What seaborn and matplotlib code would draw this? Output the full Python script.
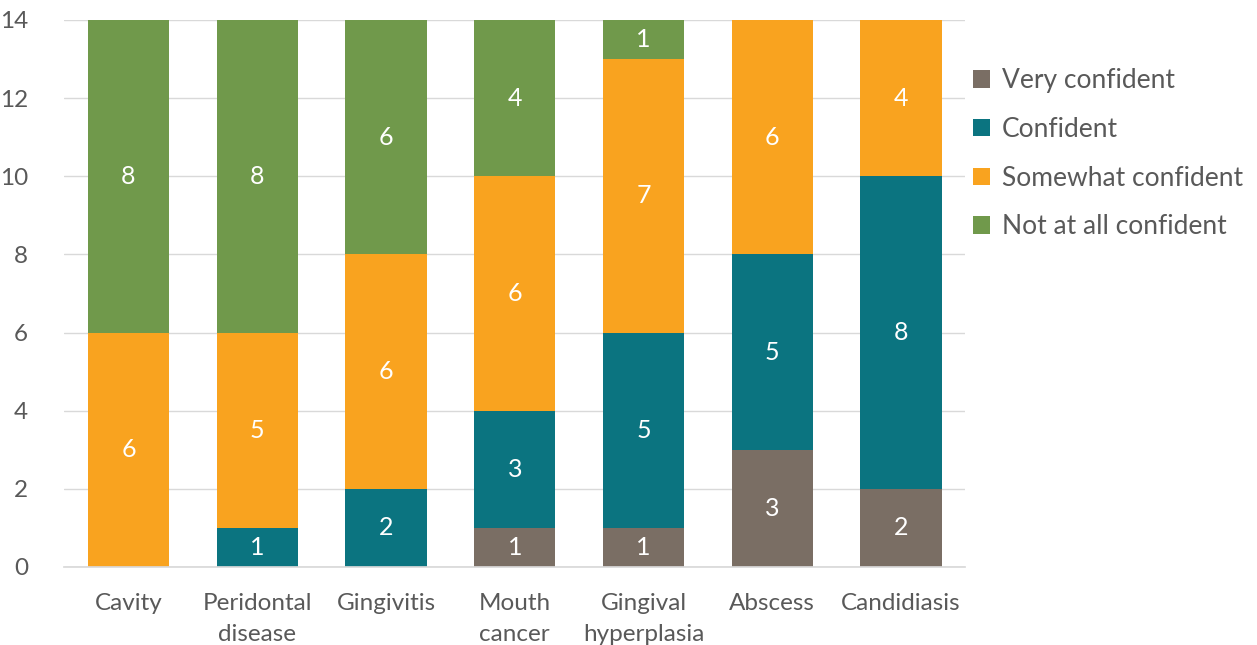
import matplotlib
matplotlib.use("Agg")
import matplotlib.pyplot as plt
import seaborn as sns
import pandas as pd
import numpy as np

categories = ["Cavity", "Peridontal\ndisease", "Gingivitis", "Mouth\ncancer",
              "Gingival\nhyperplasia", "Abscess", "Candidiasis"]
very_confident = [0, 0, 0, 1, 1, 3, 2]
confident = [0, 1, 2, 3, 5, 5, 8]
somewhat_confident = [6, 5, 6, 6, 7, 6, 4]
not_at_all_confident = [8, 8, 6, 4, 1, 0, 0]

series_names = ["Very confident", "Confident", "Somewhat confident", "Not at all confident"]
series_values = [very_confident, confident, somewhat_confident, not_at_all_confident]
colors = ["#7a6e64", "#0b7480", "#f9a31f", "#70994b"]

sns.set_theme(style="white")
plt.rcParams['font.family'] = ['Lato', 'DejaVu Sans']

fig = plt.figure(figsize=(12.57, 6.45), dpi=100)
ax = fig.add_axes([0.051, 0.121, 0.717, 0.848])

bottom = np.zeros(len(categories))
for name, vals, col in zip(series_names, series_values, colors):
    df = pd.DataFrame({"cat": categories, "val": vals})
    sns.barplot(data=df, x="cat", y="val", color=col, bottom=bottom, width=0.63,
                ax=ax, label=name, saturation=1, edgecolor="none")
    cont = ax.containers[-1]
    ax.bar_label(cont, labels=[str(v) if v else "" for v in vals], label_type="center",
                 color="white", fontsize=18)
    bottom = bottom + np.array(vals)

ax.set_ylim(0, 14)
ax.set_xlim(-0.5, 6.5)
ax.set_yticks(range(0, 15, 2))
ax.yaxis.grid(True, color="#d9d9d9", linewidth=1)
ax.set_axisbelow(True)
for s in ["top", "right", "left"]:
    ax.spines[s].set_visible(False)
ax.spines["bottom"].set_color("#d9d9d9")
ax.set_xlabel("")
ax.set_ylabel("")
ax.tick_params(axis="both", length=0, labelsize=17.5, colors="#595959")
ax.tick_params(axis="x", pad=19)
ax.tick_params(axis="y", pad=26)
for lab in ax.get_xticklabels():
    lab.set_linespacing(1.55)
for lab in ax.get_yticklabels():
    lab.set_horizontalalignment("right")

handles, labels = ax.get_legend_handles_labels()
leg = ax.legend(handles, labels, loc="upper left", bbox_to_anchor=(1.008, 0.912),
                borderaxespad=0, borderpad=0,
                frameon=False, fontsize=19, handlelength=0.65, handleheight=0.65,
                handletextpad=0.45, labelspacing=0.9, labelcolor="#595959")

fig.savefig("out.png", dpi=100)
